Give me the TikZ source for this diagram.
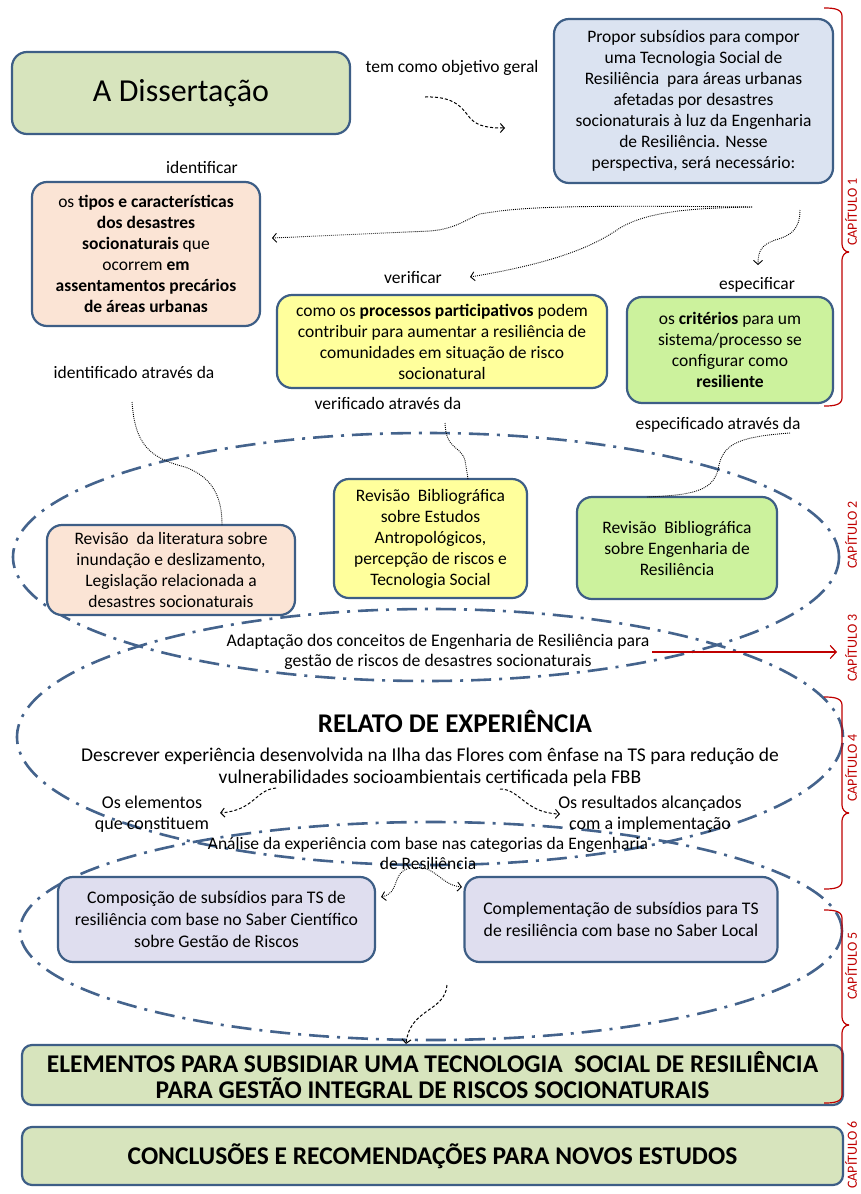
\documentclass[tikz,border=0pt]{standalone}
\usepackage{fontspec}
\setmainfont{Carlito}
\usetikzlibrary{arrows.meta}
\definecolor{bord}{HTML}{3D5E86}
\definecolor{ellc}{HTML}{44638C}
\definecolor{fgreen}{HTML}{D7E4BD}
\definecolor{fblue}{HTML}{DBE3F1}
\definecolor{fpeach}{HTML}{FBE4D5}
\definecolor{fyellow}{HTML}{FFFF9C}
\definecolor{flime}{HTML}{CCF29D}
\definecolor{flav}{HTML}{DFDEEF}
\definecolor{capred}{HTML}{C00000}
\tikzset{
 box/.style={draw=bord, line width=2.2pt, rounded corners=15pt, align=center, inner sep=0pt},
 txt/.style={font=\fontsize{17.5}{21}\selectfont, align=center, inner sep=0pt},
 ltxt/.style={font=\fontsize{17.7}{22}\selectfont, align=center, inner sep=0pt},
 ell/.style={draw=ellc, line width=2.6pt, dash pattern=on 20pt off 8pt on 3pt off 8pt},
 dotc/.style={line width=0.9pt, dash pattern=on 0.9pt off 1.1pt, -{Straight Barb[length=4pt,width=9pt]}},
 dotl/.style={line width=0.9pt, dash pattern=on 0.9pt off 1.1pt},
 dashc/.style={line width=1pt, dash pattern=on 3pt off 2pt, -{Straight Barb[length=4pt,width=9pt]}},
 chaplabel/.style={font=\fontsize{14}{14}\selectfont, text=capred, rotate=90, inner sep=0pt},
 redbrace/.style={draw=capred, line width=1.2pt},
}
\begin{document}
\begin{tikzpicture}[x=1pt,y=-1pt]
\useasboundingbox (0,0) rectangle (861,1194);
\fill[white] (0,0) rectangle (861,1194);

% ellipses
\draw[ell] (426,557) ellipse [x radius=413pt, y radius=124pt];
\draw[ell] (430,737) ellipse [x radius=413pt, y radius=128pt];
\draw[ell] (431,931) ellipse [x radius=411pt, y radius=109pt];

% boxes
\node[box, fill=fgreen, minimum width=338pt, minimum height=82pt, font=\fontsize{32}{32}\selectfont] (diss) at (181,93) {A Dissertação};
\node[box, fill=fblue, minimum width=279pt, minimum height=164pt, txt] (obj) at (693.5,101) {Propor subsídios para compor\\ uma Tecnologia Social de\\ Resiliência\ \ para áreas urbanas\\ afetadas por desastres\\ socionaturais à luz da Engenharia\\ de Resiliência. Nesse\\ perspectiva, será necessário:};
\node[box, fill=fpeach, minimum width=228pt, minimum height=144pt, txt] (tipos) at (146,254) {os \textbf{tipos e características}\\ \textbf{dos desastres}\\ \textbf{socionaturais} que\\ ocorrem \textbf{em}\\ \textbf{assentamentos precários}\\ \textbf{de áreas urbanas}};
\node[box, fill=fyellow, minimum width=330pt, minimum height=93pt, txt] (proc) at (442,341.5) {como os \textbf{processos participativos} podem\\ contribuir para aumentar a resiliência de\\ comunidades em situação de risco\\ socionatural};
\node[box, fill=flime, minimum width=206pt, minimum height=106pt, txt] (crit) at (730,350) {os \textbf{critérios} para um\\ sistema/processo se\\ configurar como\\ \textbf{resiliente}};
\node[box, fill=fpeach, minimum width=248pt, minimum height=90pt, txt] (revlit) at (171,570) {Revisão\ \ da literatura sobre\\ inundação e deslizamento,\\ Legislação relacionada a\\ desastres socionaturais};
\node[box, fill=fyellow, minimum width=193pt, minimum height=119pt, txt] (revant) at (430.5,538.5) {Revisão\ \ Bibliográfica\\ sobre Estudos\\ Antropológicos,\\ percepção de riscos e\\ Tecnologia Social};
\node[box, fill=flime, minimum width=200pt, minimum height=102pt, txt] (reveng) at (677,548) {Revisão\ \ Bibliográfica\\ sobre Engenharia de\\ Resiliência};
\node[box, fill=flav, minimum width=317pt, minimum height=85pt, ltxt] (comp) at (216.5,919.5) {Composição de subsídios para TS de\\ resiliência com base no Saber Científico\\ sobre Gestão de Riscos};
\node[box, fill=flav, minimum width=313pt, minimum height=85pt, ltxt] (compl) at (621,919.5) {Complementação de subsídios para TS\\ de resiliência com base no Saber Local};
\node[box, fill=fgreen, rounded corners=10pt, minimum width=821pt, minimum height=60pt, font=\bfseries\fontsize{25.5}{26}\selectfont] (elem) at (432.5,1075) {ELEMENTOS PARA SUBSIDIAR UMA TECNOLOGIA\ \ SOCIAL DE RESILIÊNCIA\\ PARA GESTÃO INTEGRAL DE RISCOS SOCIONATURAIS};
\node[box, fill=fgreen, rounded corners=10pt, minimum width=821pt, minimum height=58pt, font=\bfseries\fontsize{25.5}{26}\selectfont] (concl) at (432.5,1156) {CONCLUSÕES\ E RECOMENDAÇÕES PARA NOVOS ESTUDOS};

% labels
\node[txt] (tcomo) at (452,68) {tem como objetivo geral};
\node[txt] (lident) at (202,167) {identificar};
\node[txt] (lverif) at (413,278) {verificar};
\node[txt] (lespec) at (757,285) {especificar};
\node[txt] (tident) at (134,372) {identificado através da};
\node[txt] (tverif) at (388,403) {verificado através da};
\node[txt] (tespec) at (718,425) {especificado através da};
\node[txt, font=\fontsize{17.7}{20}\selectfont] (adapt) at (438,652) {Adaptação dos conceitos de Engenharia de Resiliência para\\ gestão de riscos de desastres socionaturais};
\node[txt, font=\bfseries\fontsize{27}{27}\selectfont] (relato) at (455,721) {RELATO DE EXPERIÊNCIA};
\node[txt, font=\fontsize{19.5}{22}\selectfont] (desc) at (430,767) {Descrever experiência desenvolvida na Ilha das Flores com ênfase na TS para redução de\\ vulnerabilidades socioambientais certificada pela FBB};
\node[ltxt, font=\fontsize{18}{21}\selectfont] (elems) at (152,814) {Os elementos\\ que constituem};
\node[ltxt, font=\fontsize{18}{21}\selectfont] (results) at (650,814) {Os resultados alcançados\\ com a implementação};
\node[txt, font=\fontsize{17.5}{20}\selectfont] (anal) at (428,853) {Análise da experiência com base nas categorias da Engenharia\\ de Resiliência};

% chapter labels
\node[chaplabel] (c1) at (851,212) {CAPÍTULO 1};
\node[chaplabel] (c2) at (851,535) {CAPÍTULO 2};
\node[chaplabel] (c3) at (851,648) {CAPÍTULO 3};
\node[chaplabel] (c4) at (851,768) {CAPÍTULO 4};
\node[chaplabel] (c5) at (851,966) {CAPÍTULO 5};
\node[chaplabel] (c6) at (851,1155) {CAPÍTULO 6};

% braces
\draw[redbrace] (824,8) to[out=0,in=90] (842,16) -- (842,244) to[out=-90,in=180] (849,252);
\draw[redbrace] (849,252) to[out=180,in=90] (842,260) -- (842,398) to[out=-90,in=0] (824,406);
\draw[redbrace] (824,697) to[out=0,in=90] (842,705) -- (842,805) to[out=-90,in=180] (849,813);
\draw[redbrace] (849,813) to[out=180,in=90] (842,821) -- (842,881) to[out=-90,in=0] (824,889);
\draw[redbrace] (824,910) to[out=0,in=90] (842,918) -- (842,1017) to[out=-90,in=180] (849,1025);
\draw[redbrace] (849,1025) to[out=180,in=90] (842,1033) -- (842,1095) to[out=-90,in=0] (824,1103);

% red arrow
\coordinate (ras) at (652,652);
\coordinate (rae) at (837,652);
\draw[capred, line width=1.2pt, -{Straight Barb[length=6pt,width=13pt]}] (ras) -- (rae);

% connector coordinates
\coordinate (a1s) at (425,97);
\coordinate (a1e) at (505,128);
\coordinate (d0) at (752,207);
\coordinate (d1e) at (272,238);
\coordinate (d2e) at (470,277);
\coordinate (d3s) at (800,210);
\coordinate (d3e) at (758,265);
\coordinate (i1s) at (132,402);
\coordinate (i1e) at (222,525);
\coordinate (v1s) at (445,423);
\coordinate (v1e) at (468,479);
\coordinate (s1s) at (790,433);
\coordinate (s1e) at (647,497);
\coordinate (e1s) at (276,788);
\coordinate (e1e) at (220,813);
\coordinate (e2s) at (500,789);
\coordinate (e2e) at (560,814);
\coordinate (n1s) at (407,869);
\coordinate (n1e) at (381,897);
\coordinate (n2s) at (413,868);
\coordinate (n2e) at (462,887);
\coordinate (b1s) at (447,985);
\coordinate (b1e) at (406,1044);

% connectors
\draw[dashc] (a1s) .. controls (455,96) and (462,108) .. (470,118) .. controls (478,127) and (490,128) .. (a1e);
\draw[dotc] (d0) .. controls (560,205) and (520,207) .. (480,214) .. controls (465,220) and (455,229) .. (430,231) -- (d1e);
\draw[dotc] (d0) .. controls (700,208) and (650,210) .. (620,228) .. controls (595,245) and (560,262) .. (d2e);
\draw[dotc] (d3s) .. controls (800,230) and (790,236) .. (775,240) .. controls (762,245) and (758,250) .. (d3e);
\draw[dotl] (i1s) .. controls (135,445) and (150,458) .. (185,467) .. controls (215,478) and (222,500) .. (i1e);
\draw[dotl] (v1s) .. controls (446,450) and (460,445) .. (465,460) -- (v1e);
\draw[dotl] (s1s) .. controls (735,437) and (722,445) .. (718,470) .. controls (712,492) and (690,495) .. (s1e);
\draw[dashc] (e1s) .. controls (255,790) and (255,810) .. (e1e);
\draw[dashc] (e2s) .. controls (520,789) and (525,813) .. (e2e);
\draw[dotc] (n1s) .. controls (392,874) and (400,893) .. (n1e);
\draw[dotc] (n2s) .. controls (435,864) and (440,885) .. (n2e);
\draw[dashc] (b1s) .. controls (445,1012) and (410,1008) .. (b1e);
\end{tikzpicture}
\end{document}
